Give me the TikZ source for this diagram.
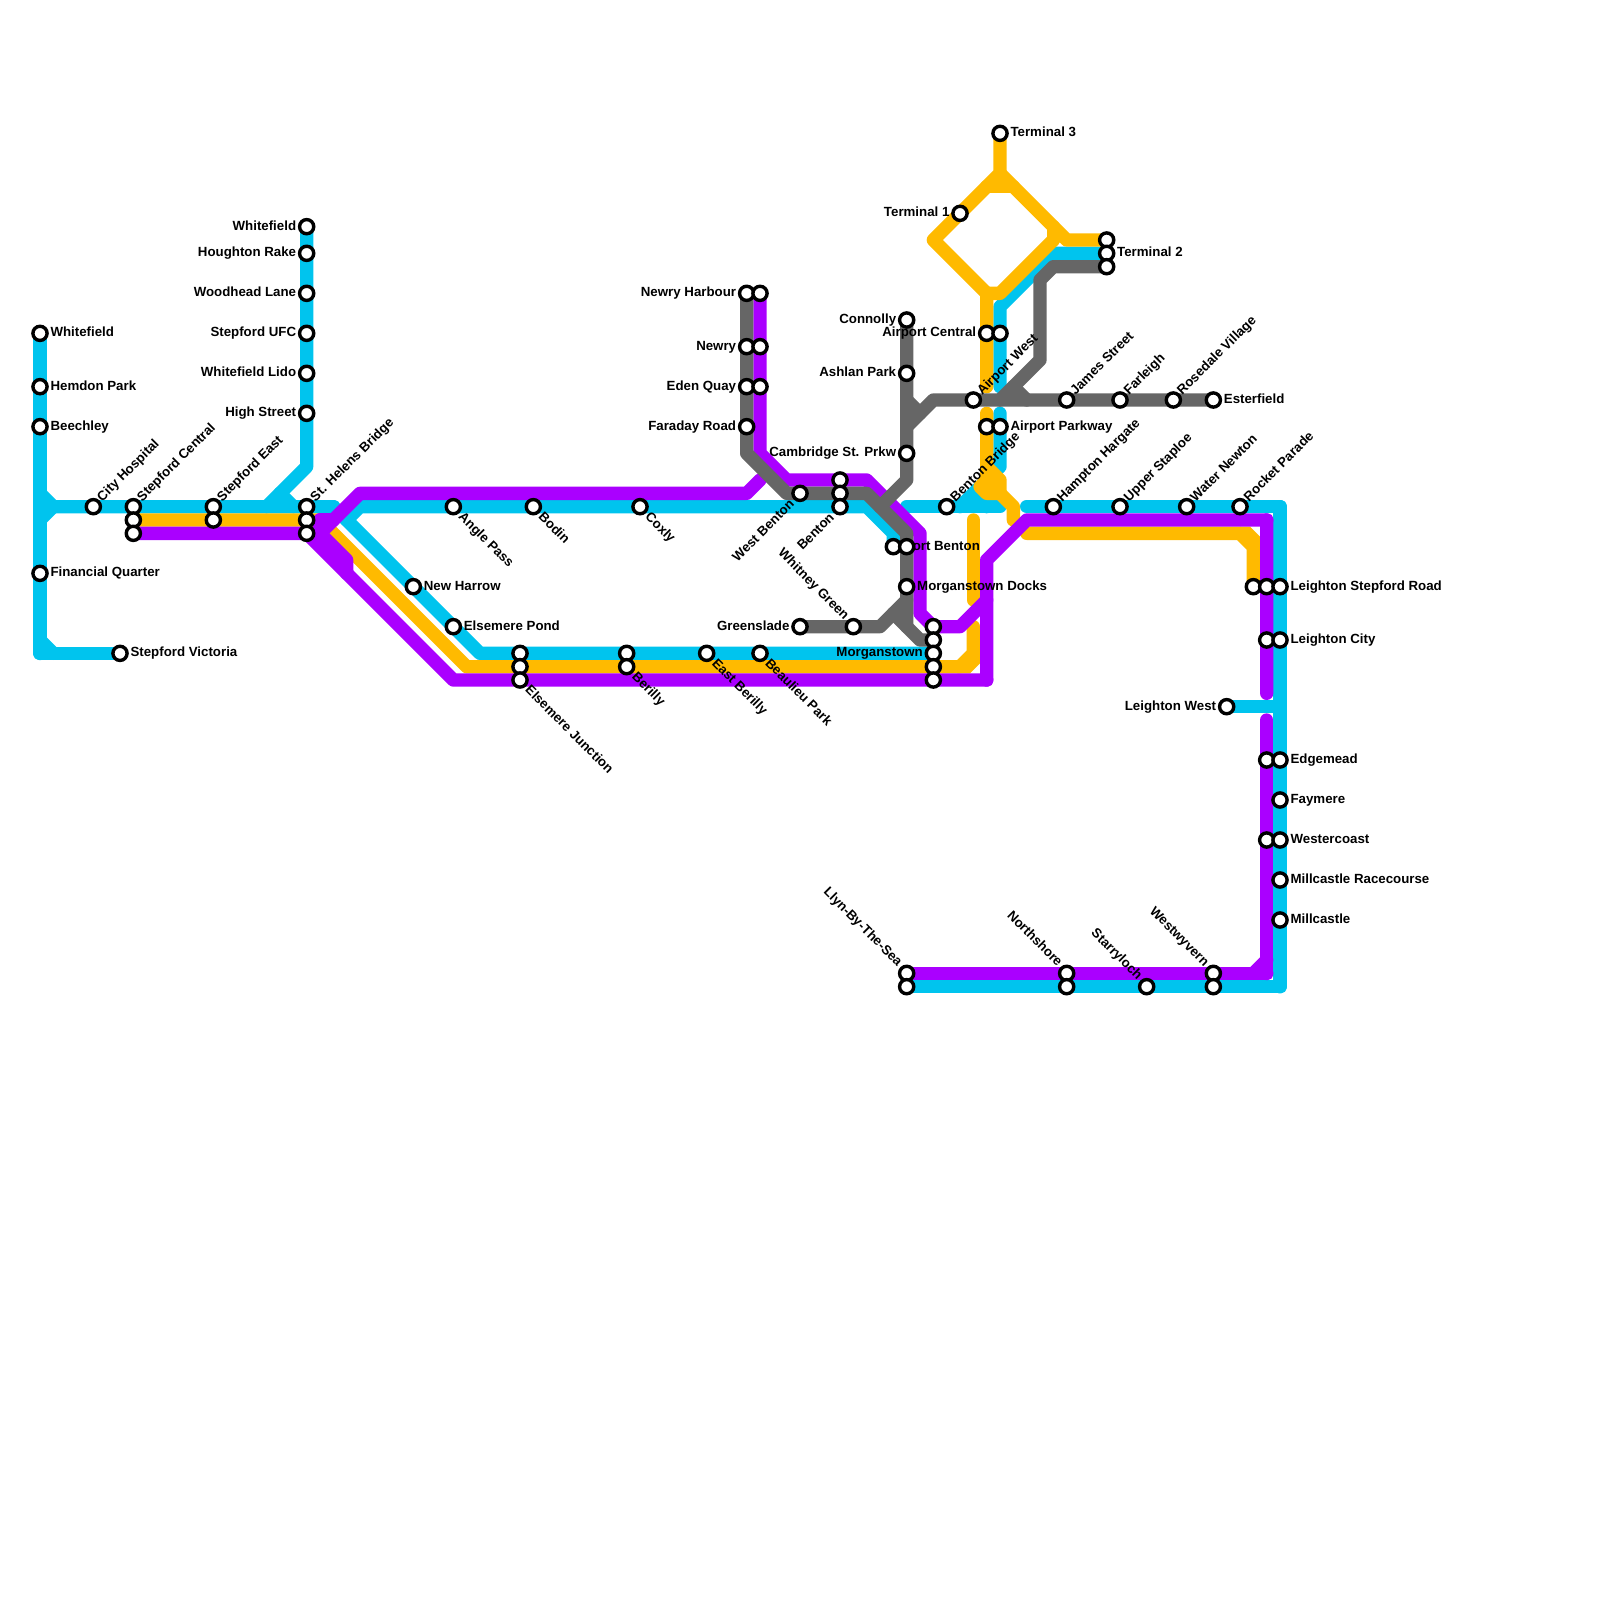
\documentclass[tikz,border=0pt]{standalone}
\usepackage{fontspec}
\setmainfont{Liberation Sans}[BoldFont={Liberation Sans Bold}]
\definecolor{mcyan}{HTML}{00C4EE}
\definecolor{morange}{HTML}{FFBA00}
\definecolor{mpurple}{HTML}{AA00FF}
\definecolor{mgrey}{HTML}{666666}
\tikzset{
  ln/.style={line width=0.3333cm,line cap=round,line join=round},
  stnode/.style={circle,draw=black,fill=white,line width=3.4*0.711pt,minimum size=14.2*0.711pt,inner sep=0pt},
  lab/.style={font=\bfseries\fontsize{9.45pt}{11pt}\selectfont,inner sep=0pt,text=black},
}
\newcommand{\crn}[3]{\fill[#1,rounded corners=1.4mm] (#2-.5,#3-.5) rectangle (#2+.5,#3+.5);}
\newcommand{\stn}[2]{\node[stnode] (st-#1-#2) at (#1,#2) {};}
\newcommand{\lR}[3]{\node[lab,anchor=base west] (lb-#1-#2) at (#1+.77,#2+.25) {#3};}
\newcommand{\lL}[3]{\node[lab,anchor=base east] (lb-#1-#2) at (#1-.77,#2+.25) {#3};}
\newcommand{\lUR}[3]{\node[lab,anchor=base west,rotate=45] (lb-#1-#2) at (#1+.66,#2-.32) {#3};}
\newcommand{\lDR}[3]{\node[lab,anchor=base west,rotate=-45] (lb-#1-#2) at (#1+.33,#2+.80) {#3};}
\newcommand{\lUL}[3]{\node[lab,anchor=base east,rotate=-45] (lb-#1-#2) at (#1-.70,#2-.47) {#3};}
\newcommand{\lLL}[3]{\node[lab,anchor=base east,rotate=45] (lb-#1-#2) at (#1-.37,#2+.87) {#3};}
\begin{document}
\begin{tikzpicture}[x=0.33333cm,y=-0.33333cm]
\useasboundingbox (0,0) rectangle (120,120);
% cyan
\begin{scope}[ln]
\draw[mcyan] (3,25)--(3,49)--(9,49);
\draw[mcyan] (3,48)--(4,49);
\draw[mcyan] (3,37)--(4,38)--(3,39);
\draw[mcyan] (3,38)--(25,38)--(36,49)--(70,49);
\draw[mcyan] (23,17)--(23,35)--(20,38);
\draw[mcyan] (21,37)--(22,38);
\draw[mcyan] (26,39)--(27,38)--(65,38)--(67,40)--(67,41);
\draw[mcyan] (68,38)--(75,38);
\draw[mcyan] (72,38)--(75,35)--(75,31);
\draw[mcyan] (73,37)--(74,38);
\draw[mcyan] (83,19)--(79,19)--(75,23)--(75,29);
\draw[mcyan] (77,38)--(96,38)--(96,74)--(68,74);
\draw[mcyan] (92,53)--(96,53);
\end{scope}
\crn{mcyan}{3}{49}
\crn{mcyan}{25}{38}
\crn{mcyan}{96}{38}
\crn{mcyan}{96}{74}
% orange
\begin{scope}[ln]
\draw[morange] (10,39)--(24,39)--(35,50)--(72,50)--(73,49)--(73,47);
\draw[morange] (73,39)--(73,45);
\draw[morange] (75,10)--(75,13)--(70,18)--(74,22)--(74,29);
\draw[morange] (75,13)--(80,18)--(83,18);
\draw[morange] (74,14)--(76,14);
\draw[morange] (79,17)--(79,18);
\draw[morange] (74,22)--(75,22)--(79,18);
\draw[morange] (74,31)--(74,36)--(73.5,36.5)--(74,37)--(75,37)--(76,38)--(76,39);
\draw[morange] (74,35)--(75,36)--(75,37);
\draw[morange] (74,36)--(75,37);
\draw[morange] (77,40)--(93,40)--(94,41)--(94,44);
\end{scope}
\fill[morange] (71.8,50.5)--(72.75,50.5)--(73.5,49.75)--(73.5,48.8)--(72.5,48.8)--(71.8,49.5)--cycle;
\fill[morange] (93,39.5)--(93.75,39.5)--(94.5,40.25)--(94.5,41.2)--(93.5,41.2)--(92.8,40.5)--cycle;
% purple
\begin{scope}[ln]
\draw[mpurple] (10,40)--(23,40)--(34,51)--(74,51)--(74,42)--(77,39)--(95,39)--(95,52);
\draw[mpurple] (24,39)--(25,39);
\draw[mpurple] (24,39)--(24,40);
\draw[mpurple] (24,40)--(26,42)--(26,43);
\draw[mpurple] (24,40)--(27,37)--(56,37)--(57,36);
\draw[mpurple] (57,22)--(57,34)--(59,36)--(65,36)--(69,40)--(69,46)--(70,47)--(72,47)--(74,45);
\draw[mpurple] (95,54)--(95,73)--(68,73);
\draw[mpurple] (94,73)--(95,72);
\end{scope}
\crn{mpurple}{74}{51}
\crn{mpurple}{95}{39}
\crn{mpurple}{95}{73}
% grey
\begin{scope}[ln]
\draw[mgrey] (56,22)--(56,34)--(59,37)--(65,37)--(68,40)--(68,47);
\draw[mgrey] (67,46)--(69,48)--(70,48);
\draw[mgrey] (68,24)--(68,36)--(66,38);
\draw[mgrey] (60,47)--(66,47)--(68,45);
\draw[mgrey] (68,32)--(70,30)--(91,30);
\draw[mgrey] (68,30)--(69,31);
\draw[mgrey] (83,20)--(79,20)--(78,21)--(78,27)--(75,30);
\draw[mgrey] (76,29)--(77,30);
\end{scope}
% labels
\lR{3}{25}{Whitefield}
\lR{3}{29}{Hemdon Park}
\lR{3}{32}{Beechley}
\lR{3}{43}{Financial Quarter}
\lR{9}{49}{Stepford Victoria}
\lR{31}{44}{New Harrow}
\lR{34}{47}{Elsemere Pond}
\lR{67}{41}{Port Benton}
\lR{68}{44}{Morganstown Docks}
\lR{75}{10}{Terminal 3}
\lR{83}{19}{Terminal 2}
\lR{75}{32}{Airport Parkway}
\lR{91}{30}{Esterfield}
\lR{96}{44}{Leighton Stepford Road}
\lR{96}{48}{Leighton City}
\lR{96}{57}{Edgemead}
\lR{96}{60}{Faymere}
\lR{96}{63}{Westercoast}
\lR{96}{66}{Millcastle Racecourse}
\lR{96}{69}{Millcastle}
\lL{23}{17}{Whitefield}
\lL{23}{19}{Houghton Rake}
\lL{23}{22}{Woodhead Lane}
\lL{23}{25}{Stepford UFC}
\lL{23}{28}{Whitefield Lido}
\lL{23}{31}{High Street}
\lL{56}{22}{Newry Harbour}
\lL{56}{26}{Newry}
\lL{56}{29}{Eden Quay}
\lL{56}{32}{Faraday Road}
\lL{68}{24}{Connolly}
\lL{68}{28}{Ashlan Park}
\lL{68}{34}{Cambridge St. Prkw}
\lL{60}{47}{Greenslade}
\lL{70}{49}{Morganstown}
\lL{72}{16}{Terminal 1}
\lL{74}{25}{Airport Central}
\lL{92}{53}{Leighton West}
\lUR{7}{38}{City Hospital}
\lUR{10}{38}{Stepford Central}
\lUR{16}{38}{Stepford East}
\lUR{23}{38}{St. Helens Bridge}
\lUR{71}{38}{Benton Bridge}
\lUR{73}{30}{Airport West}
\lUR{80}{30}{James Street}
\lUR{84}{30}{Farleigh}
\lUR{88}{30}{Rosedale Village}
\lUR{79}{38}{Hampton Hargate}
\lUR{84}{38}{Upper Staploe}
\lUR{89}{38}{Water Newton}
\lUR{93}{38}{Rocket Parade}
\lDR{34}{38}{Angle Pass}
\lDR{40}{38}{Bodin}
\lDR{48}{38}{Coxly}
\lDR{39}{51}{Elsemere Junction}
\lDR{47}{50}{Berilly}
\lDR{53}{49}{East Berilly}
\lDR{57}{49}{Beaulieu Park}
\lUL{64}{47}{Whitney Green}
\lUL{68}{73}{Llyn-By-The-Sea}
\lUL{80}{73}{Northshore}
\lUL{86}{74}{Starryloch}
\lUL{91}{73}{Westwyvern}
\lLL{60}{37}{West Benton}
\lLL{63}{38}{Benton}
% stations
\foreach \p/\q in {3/25,3/29,3/32,3/43,9/49,7/38,10/38,10/39,10/40,16/38,16/39,23/38,23/39,23/40,
23/17,23/19,23/22,23/25,23/28,23/31,34/38,40/38,48/38,31/44,34/47,39/49,39/50,39/51,47/49,47/50,53/49,57/49,
56/22,57/22,56/26,57/26,56/29,57/29,56/32,60/37,63/36,63/37,63/38,68/24,68/28,68/34,67/41,68/41,68/44,
60/47,64/47,70/47,70/48,70/49,70/50,70/51,71/38,73/30,74/25,75/25,74/32,75/32,75/10,72/16,83/18,83/19,83/20,
80/30,84/30,88/30,91/30,79/38,84/38,89/38,93/38,94/44,95/44,96/44,95/48,96/48,92/53,95/57,96/57,96/60,95/63,96/63,96/66,96/69,
68/73,68/74,80/73,80/74,86/74,91/73,91/74}{\stn{\p}{\q}}
\end{tikzpicture}
\end{document}
